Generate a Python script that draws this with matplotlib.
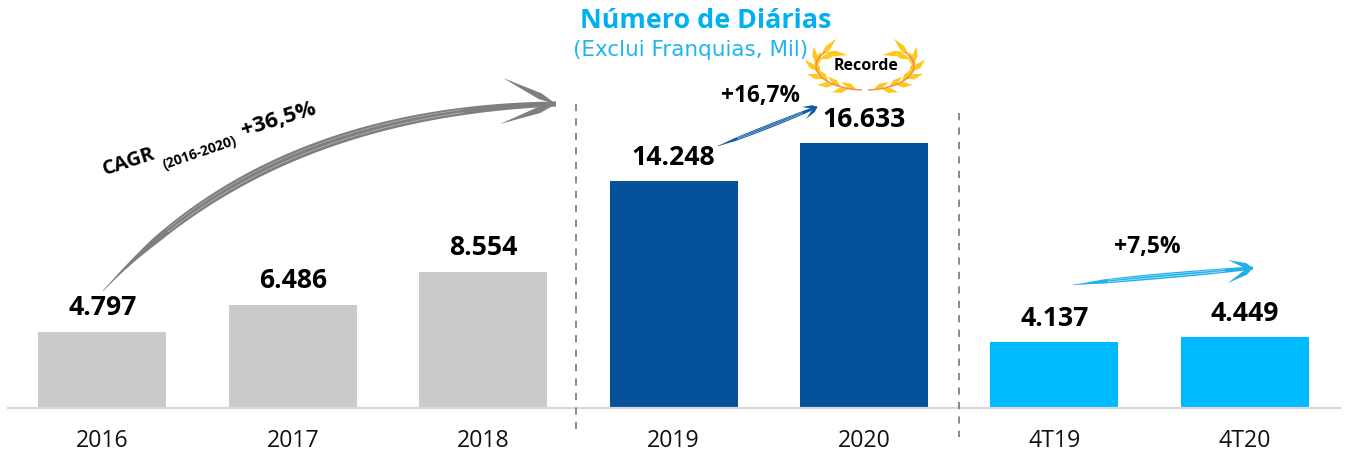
import matplotlib
matplotlib.use("Agg")
import matplotlib.pyplot as plt
import numpy as np
from matplotlib.patches import Polygon

W, H = 1347, 454

categories = ["2016", "2017", "2018", "2019", "2020", "4T19", "4T20"]
values = [4797, 6486, 8554, 14248, 16633, 4137, 4449]
value_labels = ["4.797", "6.486", "8.554", "14.248", "16.633", "4.137", "4.449"]
groups = ["old", "old", "old", "year", "year", "quarter", "quarter"]

GROUP_COLORS = {"old": "#CBCBCB", "year": "#05529B", "quarter": "#00BAFF"}
GOLD = "#FFC81E"
STEM = "#F08A3C"
FONT = "Open Sans"

plt.rcParams["font.family"] = [FONT, "DejaVu Sans"]


def bezier(p0, p1, p2, p3, n=80):
    t = np.linspace(0, 1, n)[:, None]
    p0, p1, p2, p3 = map(np.asarray, (p0, p1, p2, p3))
    return (1 - t) ** 3 * p0 + 3 * (1 - t) ** 2 * t * p1 + 3 * (1 - t) * t ** 2 * p2 + t ** 3 * p3


def swoosh(axis, ctrl, barbs, color, max_w, barb_w, streak=None):
    # tapered shaft plus two barbs, pixel coordinates
    pts = bezier(*ctrl)
    tangent = np.gradient(pts, axis=0)
    normal = np.c_[-tangent[:, 1], tangent[:, 0]]
    normal /= np.linalg.norm(normal, axis=1, keepdims=True)
    s = np.linspace(0, 1, len(pts))
    half = 0.5 * max_w * np.sin(np.pi * (0.06 + 0.82 * s)) ** 0.7 * np.minimum(s * 6, 1) + 0.3
    shape = np.r_[pts + normal * half[:, None], (pts - normal * half[:, None])[::-1]]
    axis.add_patch(Polygon(shape, closed=True, fc=color, ec="none"))
    if streak:
        keep = (s > 0.2) & (s < 0.85)
        axis.plot(*(pts[keep] + normal[keep] * half[keep, None] * 0.35).T, color=streak, lw=0.5)
        axis.plot(*(pts[keep] - normal[keep] * half[keep, None] * 0.45).T, color=streak, lw=0.4)
    tip = np.asarray(ctrl[3], float)
    for barb in barbs:
        barb = np.asarray(barb, float)
        d = tip - barb
        n = np.array([-d[1], d[0]]) / np.hypot(*d)
        axis.add_patch(Polygon([barb, tip - d * 0.3 + n * barb_w, tip, tip - d * 0.3 - n * barb_w],
                               closed=True, fc=color, ec="none"))


def laurel(axis, cx, cy, rx, ry):
    for side in (-1, 1):
        angles = np.radians(np.linspace(4, 125, 40))
        axis.plot(cx + side * rx * np.sin(angles), cy + ry * np.cos(angles), color=STEM, lw=1.0,
                  solid_capstyle="round", zorder=4)
        for i, a in enumerate(np.radians(np.linspace(10, 125, 13))):
            start = np.array([cx + side * rx * np.sin(a), cy + ry * np.cos(a)])
            heading = np.arctan2(ry * np.sin(a), rx * np.cos(a))
            # leaves alternate to the outer and the inner side of the stem
            spread = np.radians(22) if i % 2 == 0 else -np.radians(22)
            if a > np.radians(100):
                spread += np.radians(20)
            heading = heading + spread
            leaf = np.array([side * np.cos(heading), -np.sin(heading)])
            length = 17 if a < np.radians(100) else 23
            perp = np.array([-leaf[1], leaf[0]]) * 2.8
            axis.add_patch(Polygon([start, start + leaf * length * 0.45 + perp, start + leaf * length,
                                    start + leaf * length * 0.45 - perp],
                                   closed=True, fc=GOLD, ec="none", zorder=3))


fig = plt.figure(figsize=(W / 100, H / 100), dpi=100)

# bar axes: bottom edge sits on the baseline
base_px = 408
ax = fig.add_axes([0, (H - base_px) / H, 1, base_px / H])
positions = np.arange(len(categories))
ax.bar(positions, values, width=128 / 190.4, color=[GROUP_COLORS[g] for g in groups])
ax.set_xlim(-102.4 / 190.4, (W - 102.4) / 190.4)
ax.set_ylim(0, base_px / 0.01593)
ax.set_xticks(positions, categories, fontsize=16.7, color="#111111")
ax.tick_params(axis="x", length=0, pad=15)
ax.set_yticks([])
for side in ("top", "left", "right"):
    ax.spines[side].set_visible(False)
ax.spines["bottom"].set_color("#D9D9D9")
ax.spines["bottom"].set_linewidth(1.6)
ax.spines["bottom"].set_bounds(-94 / 190.4, (1340 - 102) / 190.4)
ax.patch.set_alpha(0)
for pos, val, label in zip(positions, values, value_labels):
    ax.annotate(label, (pos, val), xytext=(0, 10.5), textcoords="offset pixels", ha="center", va="bottom",
                fontsize=19.2, fontweight="bold", color="black")

# overlay in pixel coordinates for the decorations
ov = fig.add_axes([0, 0, 1, 1])
ov.set_xlim(0, W)
ov.set_ylim(H, 0)
ov.axis("off")

ov.text(706, 21, "Número de Diárias", ha="center", va="center", fontsize=19.4, fontweight="bold", color="#00B0F0")
ov.text(691, 50, "(Exclui Franquias, Mil)", ha="center", va="center", fontsize=15.5, color="#1FB5F0",
        family=["DejaVu Sans"])

ov.plot([576, 576], [104, 432], color="#808080", lw=1.3, ls=(0, (4, 4)))
ov.plot([959, 959], [113, 437], color="#808080", lw=1.3, ls=(0, (4, 4)))

swoosh(ov, [(103, 291), (200, 185), (340, 110), (556, 104)], [(503, 78), (500, 124)], "#7F7F7F", 9, 3.2, streak="#BBBBBB")
swoosh(ov, [(718, 146), (750, 134), (785, 120), (817, 107)], [(802, 107), (806, 119)], "#0F5CA5", 3.5, 1.8, streak="#9DBEDD")
swoosh(ov, [(1073, 285), (1130, 278), (1190, 274), (1253, 268)], [(1228, 260), (1228, 283)], "#1FB0EC", 5, 2.6, streak="#BDE8FA")

ov.text(129, 162, "CAGR", rotation=18, ha="center", va="center", fontsize=14.5, fontweight="bold", color="black")
ov.text(200, 153, "(2016-2020)", rotation=19, ha="center", va="center", fontsize=10, fontweight="bold", color="black")
ov.text(279, 120, "+36,5%", rotation=17, ha="center", va="center", fontsize=16, fontweight="bold", color="black")
ov.text(761, 96, "+16,7%", ha="center", va="center", fontsize=16.3, fontweight="bold", color="black")
ov.text(1147, 247, "+7,5%", ha="center", va="center", fontsize=16.5, fontweight="bold", color="black")

laurel(ov, 865, 66, 49, 24)
ov.text(866, 66, "Recorde", ha="center", va="center", fontsize=11.5, fontweight="bold", color="black", zorder=5)

fig.savefig("out.png", dpi=100)
